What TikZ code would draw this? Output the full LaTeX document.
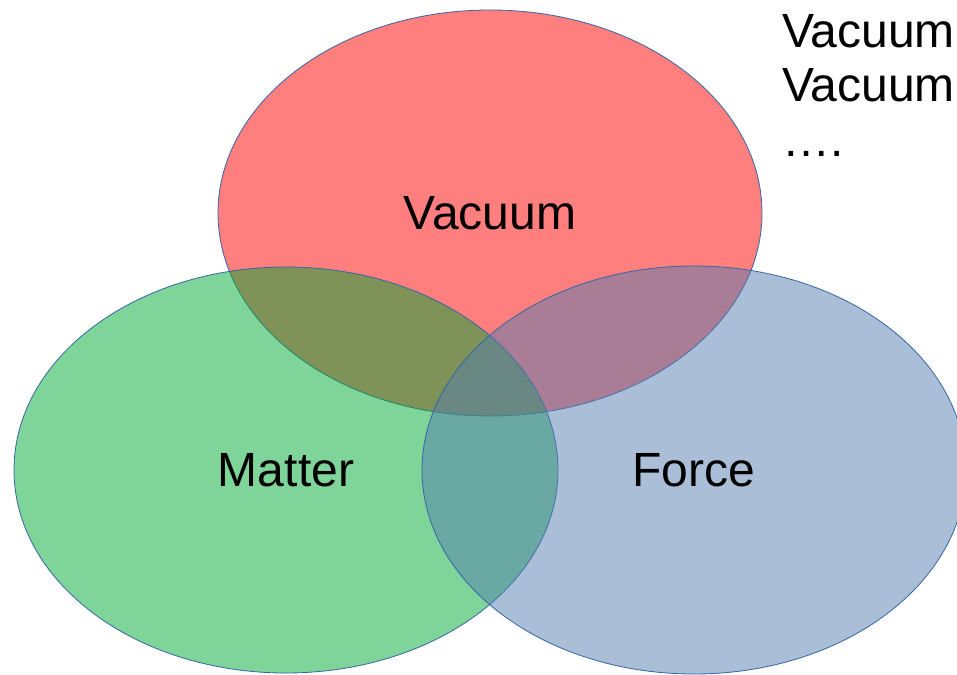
\documentclass[tikz,border=0pt]{standalone}
\usepackage{fontspec}
\setmainfont{Liberation Sans}
\usetikzlibrary{positioning}

\definecolor{vacred}{HTML}{FF0000}
\definecolor{matgreen}{HTML}{00A933}
\definecolor{forblue}{HTML}{557DAF}
\definecolor{rimblue}{HTML}{3465A4}

\begin{document}
\begin{tikzpicture}[
  x=1pt, y=-1pt,
  setstyle/.style={
        draw=rimblue,
        line width=0.8pt,
        fill opacity=0.5
  },
  labelstyle/.style={
        font=\fontsize{48}{54}\selectfont,
        inner sep=0
  }
]

    \useasboundingbox (0,0) rectangle (957,674);

    \coordinate (V) at (490,213);
    \coordinate (M) at (286,470);
    \coordinate (F) at (694,470);

    \draw[setstyle, fill=vacred] (V) ellipse [x radius=272, y radius=203];
    \draw[setstyle, fill=matgreen] (M) ellipse [x radius=272, y radius=203];
    \draw[setstyle, fill=forblue] (F) ellipse [x radius=272, y radius=204];

    \node[labelstyle] (vac) at (V) {Vacuum};
    \node[labelstyle] (mat) at (M) {Matter};
    \node[labelstyle] (for) at (F) {Force};

    \node[labelstyle, anchor=base west] (list_1) at (782,48) {Vacuum};
    \node[labelstyle, anchor=base west] (list_2) at (782,102) {Vacuum};
    \node[labelstyle, anchor=base west] (list_3) at (782,156) {….};
\end{tikzpicture}
\end{document}
